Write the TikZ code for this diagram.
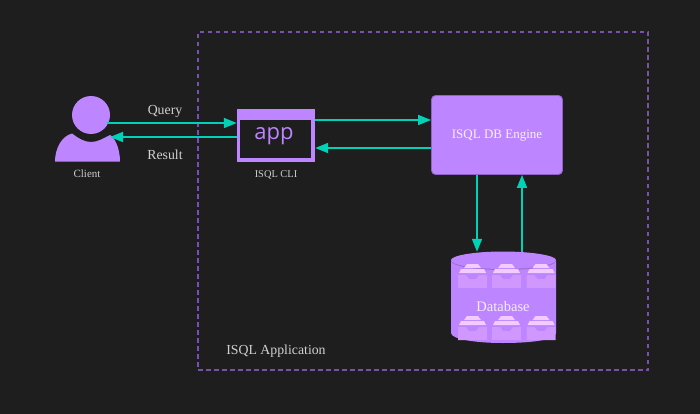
\documentclass[tikz,border=0pt]{standalone}
\usepackage{fontspec}
\setmainfont{Liberation Serif}
\setsansfont{Open Sans}
\usetikzlibrary{arrows.meta}
\definecolor{bgc}{HTML}{1E1E1E}
\definecolor{purp}{HTML}{BD85FF}
\definecolor{purpdk}{HTML}{8F62C4}
\definecolor{dash}{HTML}{7A50AE}
\definecolor{teal}{HTML}{00D2B8}
\definecolor{pinkc}{HTML}{F3CCFF}
\definecolor{drawerc}{HTML}{D098FF}
\tikzset{
  flow/.style={draw=teal,line width=1.7pt,-{Triangle[length=13pt,width=10pt]}},
  lab/.style={text=#1,inner sep=0pt,font=\fontsize{13.8}{15}\selectfont},
  lab/.default={white!82!black},
  small/.style={text=white!80!black,inner sep=0pt,font=\fontsize{10.4}{12}\selectfont},
}
\newcommand{\drawerpic}[2]{%
  \fill[drawerc] (#1,#2) -- (#1+8,#2) -- (#1+11,#2+4) -- (#1+18,#2+4) -- (#1+21,#2) -- (#1+29,#2) -- (#1+29,#2+13) -- (#1,#2+13) -- cycle;
  \fill[pinkc] (#1+1,#2-2) -- (#1+28,#2-2) -- (#1+26,#2-6) -- (#1+3,#2-6) -- cycle;
  \fill[pinkc] (#1+6,#2-7) -- (#1+23,#2-7) -- (#1+20,#2-11) -- (#1+9,#2-11) -- cycle;
}
\begin{document}
\begin{tikzpicture}[x=1pt,y=-1pt]
\fill[bgc] (0,0) rectangle (700,414);
\useasboundingbox (0,0) rectangle (700,414);
% container
\node[draw=dash,line width=1.3pt,dash pattern=on 4.5pt off 3.5pt,minimum width=450pt,minimum height=338pt,inner sep=0pt] (box) at (423,201) {};
\node[lab] (applabel) at (276,351) {ISQL Application};
% client
\fill[purp] (91,115) circle (19);
\fill[purp] (55,161.5) .. controls (55,148) and (62,136) .. (72,133.5) .. controls (78,138) and (84,142) .. (91,142) .. controls (98,142) and (104,138) .. (110,135) .. controls (113,136) and (120,146) .. (120,161.5) -- cycle;
\coordinate (clientA) at (107,123);
\coordinate (clientB) at (110,137);
\node[small,font=\fontsize{11}{12}\selectfont] (client) at (87,174) {Client};
% cli
\fill[purp] (237,109) rectangle (315,162);
\fill[bgc] (240,120) rectangle (311,158);
\node[inner sep=0pt,minimum width=78pt,minimum height=53pt] (cli) at (276,135.5) {};
\node[text=purp,inner sep=0pt,font=\sffamily\fontsize{22}{24}\selectfont] (applogo) at (274,136) {app};
\node[small] (clilabel) at (276,175) {ISQL CLI};
% engine
\node[draw=purpdk,fill=purp,rounded corners=4pt,line width=0.8pt,minimum width=131pt,minimum height=79pt,text=white!88!purp,inner sep=0pt,font=\fontsize{13}{14}\selectfont] (engine) at (497,135) {\raisebox{-3.5pt}[0pt][0pt]{ISQL DB Engine}};
% database
\fill[purp] (451,261) -- (451,333) .. controls (451,339) and (475,343) .. (503,343) .. controls (531,343) and (556,340) .. (556,333) -- (556,261) -- cycle;
\fill[purpdk!70!purp] (451,261) .. controls (451,256) and (475,252) .. (503,252) .. controls (531,252) and (556,256) .. (556,261) .. controls (556,266) and (531,270) .. (503,270) .. controls (475,270) and (451,266) .. (451,261) -- cycle;
\fill[purp] (451,260) .. controls (451,255.5) and (475,251.5) .. (503,251.5) .. controls (531,251.5) and (556,255.5) .. (556,260) .. controls (556,265) and (531,269) .. (503,269) .. controls (475,269) and (451,265) .. (451,260) -- cycle;
\drawerpic{458}{275}
\drawerpic{492}{275}
\drawerpic{526.5}{275}
\drawerpic{458}{327}
\drawerpic{492}{327}
\drawerpic{526.5}{327}
\node[inner sep=0pt,minimum width=105pt,minimum height=92pt] (db) at (503.5,298) {};
\node[lab=white!85!purp,font=\fontsize{14.5}{16}\selectfont] (dblabel) at (503,307) {Database};
% labels
\node[lab] (query) at (165,111) {Query};
\node[lab] (result) at (165,155) {Result};
% connectors
\draw[flow] (clientA) -- (cli.west |- clientA);
\draw[flow] (cli.west |- clientB) -- (clientB);
\draw[flow] (cli.east |- 0,120) -- (engine.west |- 0,120);
\draw[flow] (engine.west |- 0,148) -- (cli.east |- 0,148);
\draw[flow] (engine.south -| 477,0) -- (db.north -| 477,0);
\draw[flow] (db.north -| 522,0) -- (engine.south -| 522,0);
\end{tikzpicture}
\end{document}
